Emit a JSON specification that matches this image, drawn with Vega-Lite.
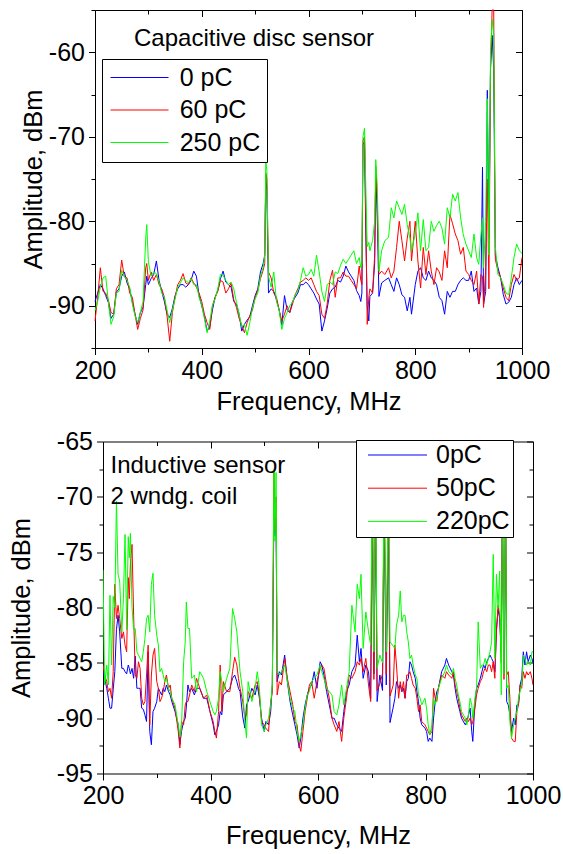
{
"$schema":"https://vega.github.io/schema/vega-lite/v6.json",
"background":"white",
"padding":{"left":9,"top":-2,"right":2,"bottom":4},
"spacing":14.5,
"datasets":{
"top":[
{"f":200,"a":-89.5,"b":-91.8,"c":-90.6},{"f":205,"a":-88.5,"b":-89.0,"c":-89.5},{"f":210,"a":-87.5,"b":-85.5,"c":-87.8},{"f":215,"a":-88.0,"b":-88.3,"c":-86.7},{"f":220,"a":-88.8,"b":-88.5,"c":-86.5},{"f":225,"a":-89.6,"b":-89.3,"c":-89.5},{"f":230,"a":-91.5,"b":-90.8,"c":-92.2},{"f":235,"a":-91.0,"b":-91.0,"c":-91.3},{"f":240,"a":-88.4,"b":-88.0,"c":-88.5},{"f":245,"a":-88.0,"b":-87.5,"c":-88.3},
{"f":250,"a":-86.5,"b":-84.6,"c":-85.8},{"f":255,"a":-86.0,"b":-86.6,"c":-86.5},{"f":260,"a":-87.3,"b":-86.7,"c":-87.0},{"f":265,"a":-88.0,"b":-88.5,"c":-87.8},{"f":270,"a":-89.6,"b":-89.0,"c":-89.8},{"f":275,"a":-91.0,"b":-91.0,"c":-91.2},{"f":280,"a":-92.2,"b":-92.8,"c":-92.0},{"f":285,"a":-90.8,"b":-91.5,"c":-90.8},{"f":290,"a":-90.2,"b":-90.5,"c":-89.5},{"f":295,"a":-87.5,"b":-85.5,"c":-82.0},
{"f":297,"a":-86.5,"b":-85.0,"c":-80.4},{"f":300,"a":-87.5,"b":-87.0,"c":-84.8},{"f":305,"a":-86.8,"b":-86.0,"c":-86.5},{"f":310,"a":-86.3,"b":-87.0,"c":-86.0},{"f":315,"a":-84.7,"b":-86.3,"c":-86.2},{"f":320,"a":-87.0,"b":-87.5,"c":-87.2},{"f":325,"a":-88.3,"b":-88.0,"c":-88.5},{"f":330,"a":-89.5,"b":-89.0,"c":-89.0},{"f":335,"a":-91.0,"b":-91.2,"c":-90.5},{"f":340,"a":-91.4,"b":-94.2,"c":-92.0},
{"f":345,"a":-90.3,"b":-90.8,"c":-90.5},{"f":350,"a":-88.8,"b":-89.0,"c":-89.2},{"f":355,"a":-88.0,"b":-87.5,"c":-87.8},{"f":360,"a":-87.5,"b":-87.0,"c":-87.3},{"f":365,"a":-87.5,"b":-86.2,"c":-86.7},{"f":370,"a":-87.8,"b":-87.3,"c":-87.0},{"f":375,"a":-87.5,"b":-87.5,"c":-87.3},{"f":380,"a":-87.0,"b":-86.7,"c":-86.8},{"f":385,"a":-85.9,"b":-87.3,"c":-87.5},{"f":390,"a":-86.5,"b":-87.8,"c":-87.5},
{"f":395,"a":-88.8,"b":-88.5,"c":-89.0},{"f":400,"a":-90.0,"b":-89.5,"c":-90.0},{"f":405,"a":-91.3,"b":-91.0,"c":-91.5},{"f":410,"a":-93.0,"b":-92.0,"c":-93.2},{"f":415,"a":-92.5,"b":-92.8,"c":-91.8},{"f":420,"a":-90.5,"b":-90.0,"c":-90.0},{"f":425,"a":-89.0,"b":-89.0,"c":-89.2},{"f":430,"a":-88.2,"b":-88.3,"c":-88.0},{"f":435,"a":-86.8,"b":-87.0,"c":-86.3},{"f":440,"a":-85.9,"b":-87.2,"c":-86.4},
{"f":445,"a":-87.2,"b":-88.5,"c":-87.0},{"f":450,"a":-87.5,"b":-88.0,"c":-87.5},{"f":455,"a":-87.8,"b":-87.3,"c":-87.2},{"f":460,"a":-89.5,"b":-89.3,"c":-88.0},{"f":465,"a":-89.8,"b":-90.2,"c":-89.6},{"f":470,"a":-91.0,"b":-91.5,"c":-91.0},{"f":475,"a":-93.0,"b":-92.3,"c":-92.5},{"f":480,"a":-92.2,"b":-93.2,"c":-92.2},{"f":485,"a":-91.7,"b":-92.0,"c":-93.5},{"f":490,"a":-91.3,"b":-91.2,"c":-92.0},
{"f":495,"a":-90.0,"b":-90.5,"c":-90.3},{"f":500,"a":-88.8,"b":-89.0,"c":-89.2},{"f":505,"a":-88.0,"b":-88.2,"c":-88.5},{"f":510,"a":-86.0,"b":-86.8,"c":-86.5},{"f":515,"a":-85.0,"b":-85.8,"c":-85.5},{"f":518,"a":-84.0,"b":-85.0,"c":-84.0},{"f":520,"a":-74.5,"b":-74.3,"c":-72.9},{"f":522,"a":-76.5,"b":-75.0,"c":-74.0},{"f":525,"a":-88.5,"b":-86.0,"c":-86.5},{"f":530,"a":-88.0,"b":-86.7,"c":-87.8},
{"f":535,"a":-88.3,"b":-88.5,"c":-86.0},{"f":540,"a":-89.3,"b":-89.0,"c":-89.5},{"f":545,"a":-90.5,"b":-90.5,"c":-90.5},{"f":550,"a":-92.3,"b":-91.8,"c":-92.8},{"f":555,"a":-88.8,"b":-91.0,"c":-91.5},{"f":560,"a":-90.5,"b":-90.0,"c":-90.8},{"f":565,"a":-90.8,"b":-90.8,"c":-90.0},{"f":570,"a":-89.5,"b":-89.8,"c":-89.6},{"f":575,"a":-89.0,"b":-88.7,"c":-88.7},{"f":580,"a":-88.5,"b":-88.0,"c":-88.2},
{"f":585,"a":-87.5,"b":-87.2,"c":-87.0},{"f":590,"a":-87.5,"b":-87.0,"c":-85.5},{"f":595,"a":-87.2,"b":-86.7,"c":-86.5},{"f":600,"a":-87.5,"b":-87.0,"c":-86.3},{"f":605,"a":-88.0,"b":-86.7,"c":-85.7},{"f":610,"a":-88.5,"b":-87.5,"c":-86.5},{"f":615,"a":-89.2,"b":-88.3,"c":-84.0},{"f":620,"a":-89.8,"b":-88.8,"c":-86.0},{"f":625,"a":-93.0,"b":-91.0,"c":-88.3},{"f":630,"a":-91.8,"b":-91.5,"c":-89.5},
{"f":635,"a":-90.3,"b":-89.8,"c":-87.5},{"f":640,"a":-88.5,"b":-87.0,"c":-87.2},{"f":645,"a":-88.0,"b":-85.8,"c":-87.5},{"f":650,"a":-87.8,"b":-89.0,"c":-86.0},{"f":655,"a":-87.0,"b":-86.7,"c":-86.2},{"f":660,"a":-87.2,"b":-86.7,"c":-85.2},{"f":665,"a":-86.5,"b":-86.0,"c":-84.5},{"f":670,"a":-85.3,"b":-86.5,"c":-85.0},{"f":675,"a":-86.0,"b":-86.5,"c":-84.5},{"f":680,"a":-86.5,"b":-87.0,"c":-84.0},
{"f":685,"a":-87.0,"b":-87.5,"c":-83.5},{"f":690,"a":-88.2,"b":-88.0,"c":-85.0},{"f":695,"a":-88.8,"b":-85.3,"c":-84.3},{"f":698,"a":-89.5,"b":-87.0,"c":-85.5},{"f":700,"a":-88.5,"b":-87.5,"c":-85.0},{"f":702,"a":-71.0,"b":-70.5,"c":-70.0},{"f":705,"a":-70.5,"b":-70.0,"c":-69.0},{"f":707,"a":-80.0,"b":-78.0,"c":-75.0},{"f":710,"a":-90.0,"b":-92.2,"c":-83.0},{"f":713,"a":-91.8,"b":-89.0,"c":-82.5},
{"f":715,"a":-88.9,"b":-88.0,"c":-83.5},{"f":720,"a":-88.5,"b":-88.5,"c":-82.3},{"f":724,"a":-85.0,"b":-84.0,"c":-80.0},{"f":726,"a":-74.0,"b":-73.5,"c":-72.7},{"f":729,"a":-80.0,"b":-78.0,"c":-76.0},{"f":732,"a":-88.9,"b":-86.3,"c":-85.9},{"f":737,"a":-87.3,"b":-85.9,"c":-83.5},{"f":743,"a":-87.0,"b":-86.3,"c":-82.3},{"f":750,"a":-86.7,"b":-85.5,"c":-81.9},{"f":755,"a":-87.5,"b":-86.7,"c":-78.4},
{"f":760,"a":-88.3,"b":-85.9,"c":-79.6},{"f":765,"a":-86.7,"b":-83.1,"c":-77.6},{"f":770,"a":-87.5,"b":-80.0,"c":-78.4},{"f":775,"a":-88.7,"b":-82.3,"c":-79.2},{"f":780,"a":-89.0,"b":-84.7,"c":-78.0},{"f":785,"a":-90.6,"b":-82.0,"c":-80.4},{"f":790,"a":-89.0,"b":-80.0,"c":-82.0},{"f":793,"a":-91.0,"b":-84.7,"c":-83.5},{"f":800,"a":-87.5,"b":-80.0,"c":-81.5},{"f":805,"a":-85.9,"b":-84.7,"c":-79.0},
{"f":810,"a":-85.5,"b":-87.9,"c":-83.5},{"f":815,"a":-86.7,"b":-83.1,"c":-79.8},{"f":820,"a":-87.0,"b":-86.3,"c":-83.5},{"f":825,"a":-85.9,"b":-83.5,"c":-83.1},{"f":830,"a":-86.7,"b":-85.9,"c":-80.0},{"f":835,"a":-87.0,"b":-87.5,"c":-81.2},{"f":840,"a":-87.5,"b":-85.5,"c":-80.5},{"f":845,"a":-89.0,"b":-86.0,"c":-80.0},{"f":850,"a":-89.4,"b":-87.0,"c":-80.8},{"f":855,"a":-91.0,"b":-83.5,"c":-82.7},
{"f":860,"a":-88.3,"b":-85.5,"c":-78.4},{"f":865,"a":-89.0,"b":-79.2,"c":-79.6},{"f":870,"a":-88.3,"b":-80.3,"c":-76.8},{"f":875,"a":-88.3,"b":-81.5,"c":-77.6},{"f":880,"a":-87.5,"b":-82.3,"c":-76.6},{"f":885,"a":-87.0,"b":-83.9,"c":-79.6},{"f":890,"a":-86.7,"b":-83.1,"c":-81.6},{"f":895,"a":-87.0,"b":-85.9,"c":-82.7},{"f":900,"a":-87.0,"b":-86.3,"c":-83.5},{"f":905,"a":-85.9,"b":-87.0,"c":-84.3},
{"f":910,"a":-88.3,"b":-87.5,"c":-81.5},{"f":915,"a":-87.9,"b":-85.9,"c":-84.3},{"f":919,"a":-89.8,"b":-89.8,"c":-85.1},{"f":923,"a":-88.3,"b":-86.3,"c":-81.6},{"f":926,"a":-73.6,"b":-86.5,"c":-79.6},{"f":928,"a":-89.8,"b":-90.2,"c":-85.5},{"f":932,"a":-88.3,"b":-85.5,"c":-80.0},{"f":935,"a":-64.5,"b":-75.0,"c":-65.5},{"f":938,"a":-82.0,"b":-88.0,"c":-84.0},{"f":941,"a":-62.0,"b":-62.0,"c":-60.0},
{"f":944,"a":-58.0,"b":-55.0,"c":-56.1},{"f":947,"a":-62.0,"b":-55.0,"c":-58.0},{"f":950,"a":-84.0,"b":-84.5,"c":-83.0},{"f":955,"a":-85.5,"b":-85.9,"c":-86.3},{"f":960,"a":-86.7,"b":-86.7,"c":-86.7},{"f":965,"a":-88.7,"b":-87.9,"c":-87.5},{"f":970,"a":-89.8,"b":-89.0,"c":-88.5},{"f":975,"a":-89.6,"b":-89.4,"c":-88.7},{"f":980,"a":-89.0,"b":-87.5,"c":-86.7},{"f":985,"a":-87.5,"b":-86.3,"c":-84.3},
{"f":990,"a":-86.7,"b":-87.0,"c":-82.7},{"f":995,"a":-87.5,"b":-86.7,"c":-83.5},{"f":1000,"a":-87.0,"b":-84.3,"c":-83.8}
],
"bot":[
{"f":200,"a":-85.8,"b":-85.2,"c":-76.6},{"f":203,"a":-86.4,"b":-86.1,"c":-87.0},{"f":207,"a":-87.3,"b":-86.7,"c":-85.2},{"f":210,"a":-88.2,"b":-87.6,"c":-87.0},{"f":213,"a":-89.1,"b":-87.3,"c":-78.9},{"f":216,"a":-89.1,"b":-88.2,"c":-85.2},{"f":219,"a":-87.4,"b":-85.8,"c":-79.0},{"f":222,"a":-85.8,"b":-77.9,"c":-80.0},{"f":225,"a":-82.0,"b":-81.0,"c":-70.4},{"f":228,"a":-80.7,"b":-79.8,"c":-77.0},
{"f":231,"a":-82.2,"b":-81.0,"c":-77.6},{"f":235,"a":-85.5,"b":-82.8,"c":-82.2},{"f":238,"a":-85.5,"b":-82.2,"c":-79.2},{"f":241,"a":-85.8,"b":-83.4,"c":-73.4},{"f":244,"a":-86.0,"b":-84.0,"c":-82.0},{"f":247,"a":-85.2,"b":-77.3,"c":-73.6},{"f":249,"a":-85.5,"b":-79.2,"c":-75.5},{"f":251,"a":-86.0,"b":-76.0,"c":-73.3},{"f":254,"a":-85.5,"b":-74.3,"c":-80.0},{"f":257,"a":-86.4,"b":-80.7,"c":-82.0},
{"f":260,"a":-84.4,"b":-86.1,"c":-81.9},{"f":263,"a":-87.3,"b":-86.4,"c":-84.0},{"f":266,"a":-87.3,"b":-84.9,"c":-84.3},{"f":269,"a":-87.3,"b":-85.5,"c":-84.6},{"f":272,"a":-89.1,"b":-88.2,"c":-84.9},{"f":275,"a":-89.2,"b":-88.8,"c":-84.0},{"f":278,"a":-89.7,"b":-88.5,"c":-82.8},{"f":281,"a":-90.3,"b":-86.1,"c":-81.0},{"f":284,"a":-84.0,"b":-83.4,"c":-80.7},{"f":287,"a":-91.2,"b":-90.6,"c":-82.2},
{"f":290,"a":-92.4,"b":-86.1,"c":-77.9},{"f":293,"a":-89.4,"b":-84.3,"c":-76.9},{"f":296,"a":-89.1,"b":-83.7,"c":-80.7},{"f":300,"a":-88.5,"b":-86.7,"c":-82.5},{"f":303,"a":-87.3,"b":-87.3,"c":-83.4},{"f":306,"a":-87.6,"b":-88.5,"c":-85.8},{"f":309,"a":-87.9,"b":-88.2,"c":-85.5},{"f":312,"a":-87.3,"b":-87.6,"c":-86.1},{"f":315,"a":-87.6,"b":-86.7,"c":-86.7},{"f":318,"a":-87.0,"b":-86.1,"c":-86.4},
{"f":322,"a":-87.6,"b":-87.3,"c":-87.3},{"f":325,"a":-87.9,"b":-87.0,"c":-87.6},{"f":328,"a":-88.5,"b":-88.2,"c":-88.2},{"f":334,"a":-89.4,"b":-89.1,"c":-88.8},{"f":340,"a":-90.6,"b":-91.2,"c":-90.6},{"f":343,"a":-92.4,"b":-92.7,"c":-91.7},{"f":346,"a":-91.2,"b":-90.3,"c":-90.9},{"f":350,"a":-90.3,"b":-90.6,"c":-84.9},{"f":353,"a":-90.0,"b":-88.8,"c":-83.1},{"f":355,"a":-89.0,"b":-88.5,"c":-79.5},
{"f":358,"a":-87.0,"b":-88.5,"c":-81.9},{"f":361,"a":-87.6,"b":-87.9,"c":-81.9},{"f":365,"a":-87.3,"b":-87.0,"c":-86.4},{"f":370,"a":-87.9,"b":-87.6,"c":-86.1},{"f":374,"a":-87.3,"b":-86.4,"c":-87.6},{"f":380,"a":-87.3,"b":-87.3,"c":-85.8},{"f":387,"a":-88.2,"b":-88.2,"c":-86.4},{"f":393,"a":-88.2,"b":-87.9,"c":-87.6},{"f":399,"a":-89.4,"b":-89.4,"c":-88.5},{"f":405,"a":-90.6,"b":-90.3,"c":-89.4},
{"f":408,"a":-91.5,"b":-91.2,"c":-89.7},{"f":411,"a":-91.2,"b":-91.8,"c":-89.4},{"f":415,"a":-90.6,"b":-89.4,"c":-88.2},{"f":418,"a":-89.4,"b":-85.2,"c":-85.8},{"f":421,"a":-89.7,"b":-89.4,"c":-86.7},{"f":424,"a":-87.9,"b":-86.7,"c":-87.6},{"f":430,"a":-87.6,"b":-87.6,"c":-86.4},{"f":436,"a":-87.3,"b":-87.6,"c":-85.5},{"f":441,"a":-86.4,"b":-85.8,"c":-80.1},{"f":445,"a":-86.1,"b":-84.5,"c":-81.0},
{"f":449,"a":-86.7,"b":-85.2,"c":-82.2},{"f":452,"a":-87.3,"b":-86.4,"c":-84.0},{"f":455,"a":-87.6,"b":-87.3,"c":-85.8},{"f":460,"a":-89.9,"b":-88.5,"c":-87.6},{"f":464,"a":-90.9,"b":-90.0,"c":-90.3},{"f":467,"a":-88.8,"b":-89.7,"c":-91.8},{"f":470,"a":-88.5,"b":-87.6,"c":-86.7},{"f":477,"a":-87.3,"b":-88.2,"c":-88.5},{"f":483,"a":-87.9,"b":-87.0,"c":-87.3},{"f":487,"a":-87.0,"b":-86.7,"c":-85.8},
{"f":491,"a":-88.2,"b":-87.9,"c":-87.3},{"f":495,"a":-90.0,"b":-90.3,"c":-90.6},{"f":500,"a":-91.2,"b":-90.6,"c":-91.2},{"f":503,"a":-90.3,"b":-90.9,"c":-90.6},{"f":508,"a":-90.6,"b":-91.2,"c":-90.0},{"f":512,"a":-89.4,"b":-88.5,"c":-88.8},{"f":515,"a":-87.0,"b":-87.6,"c":-87.0},{"f":518,"a":-71.5,"b":-67.8,"c":-67.7},{"f":520,"a":-73.5,"b":-73.0,"c":-74.0},{"f":522,"a":-72.0,"b":-70.0,"c":-67.8},
{"f":524,"a":-86.7,"b":-87.9,"c":-85.8},{"f":528,"a":-85.8,"b":-86.7,"c":-86.1},{"f":532,"a":-86.1,"b":-87.0,"c":-85.8},{"f":538,"a":-84.3,"b":-84.6,"c":-85.2},{"f":543,"a":-86.7,"b":-86.4,"c":-86.7},{"f":548,"a":-88.5,"b":-87.6,"c":-88.2},{"f":553,"a":-89.7,"b":-88.8,"c":-89.1},{"f":557,"a":-90.6,"b":-90.3,"c":-89.4},{"f":561,"a":-91.5,"b":-90.6,"c":-91.2},{"f":565,"a":-92.7,"b":-92.4,"c":-92.1},
{"f":568,"a":-91.8,"b":-93.0,"c":-91.5},{"f":572,"a":-90.0,"b":-91.2,"c":-90.6},{"f":576,"a":-88.8,"b":-89.4,"c":-89.1},{"f":580,"a":-87.9,"b":-88.2,"c":-87.9},{"f":584,"a":-87.3,"b":-87.0,"c":-87.6},{"f":588,"a":-87.0,"b":-86.7,"c":-86.7},{"f":593,"a":-85.8,"b":-88.2,"c":-86.4},{"f":598,"a":-87.3,"b":-86.7,"c":-86.1},{"f":604,"a":-84.9,"b":-85.5,"c":-85.2},{"f":607,"a":-85.2,"b":-85.2,"c":-85.8},
{"f":611,"a":-86.1,"b":-85.5,"c":-86.4},{"f":616,"a":-87.6,"b":-87.0,"c":-87.3},{"f":621,"a":-88.8,"b":-88.2,"c":-87.6},{"f":626,"a":-90.0,"b":-90.0,"c":-87.9},{"f":630,"a":-90.0,"b":-90.6,"c":-89.4},{"f":635,"a":-90.6,"b":-91.2,"c":-89.7},{"f":639,"a":-90.9,"b":-90.3,"c":-88.8},{"f":644,"a":-91.2,"b":-92.1,"c":-87.0},{"f":648,"a":-89.4,"b":-90.0,"c":-88.8},{"f":653,"a":-87.6,"b":-88.2,"c":-87.3},
{"f":658,"a":-87.0,"b":-86.1,"c":-85.8},{"f":663,"a":-85.8,"b":-86.4,"c":-79.8},{"f":669,"a":-85.2,"b":-85.8,"c":-82.2},{"f":673,"a":-82.5,"b":-84.9,"c":-77.9},{"f":677,"a":-84.9,"b":-85.2,"c":-79.2},{"f":680,"a":-83.7,"b":-84.6,"c":-77.0},{"f":684,"a":-86.4,"b":-85.8,"c":-83.7},{"f":689,"a":-85.2,"b":-84.6,"c":-80.4},{"f":694,"a":-85.8,"b":-87.0,"c":-82.2},{"f":698,"a":-88.2,"b":-88.5,"c":-83.4},
{"f":701,"a":-70.0,"b":-69.0,"c":-68.0},{"f":704,"a":-86.0,"b":-86.5,"c":-84.0},{"f":707,"a":-70.0,"b":-69.0,"c":-68.0},{"f":710,"a":-88.5,"b":-87.5,"c":-85.5},{"f":715,"a":-86.1,"b":-86.9,"c":-84.3},{"f":720,"a":-87.5,"b":-86.0,"c":-85.0},{"f":723,"a":-70.0,"b":-69.0,"c":-68.0},{"f":727,"a":-87.0,"b":-86.0,"c":-84.0},{"f":731,"a":-70.0,"b":-69.0,"c":-68.0},{"f":734,"a":-90.4,"b":-88.0,"c":-83.1},
{"f":740,"a":-89.0,"b":-87.0,"c":-83.5},{"f":743,"a":-88.2,"b":-83.4,"c":-83.7},{"f":746,"a":-86.7,"b":-85.2,"c":-81.6},{"f":750,"a":-87.3,"b":-88.2,"c":-80.7},{"f":753,"a":-87.0,"b":-86.7,"c":-78.5},{"f":756,"a":-87.6,"b":-87.6,"c":-81.3},{"f":759,"a":-87.3,"b":-86.7,"c":-80.7},{"f":762,"a":-88.2,"b":-88.2,"c":-80.7},{"f":765,"a":-86.7,"b":-86.1,"c":-82.2},{"f":768,"a":-86.4,"b":-86.1,"c":-83.1},
{"f":771,"a":-84.9,"b":-85.8,"c":-84.6},{"f":774,"a":-85.2,"b":-86.4,"c":-84.3},{"f":777,"a":-85.8,"b":-87.0,"c":-85.2},{"f":781,"a":-86.4,"b":-87.3,"c":-86.1},{"f":784,"a":-87.6,"b":-88.2,"c":-86.4},{"f":787,"a":-88.5,"b":-89.4,"c":-87.9},{"f":790,"a":-90.0,"b":-88.8,"c":-88.2},{"f":793,"a":-90.6,"b":-90.3,"c":-88.8},{"f":799,"a":-90.9,"b":-90.6,"c":-88.2},{"f":802,"a":-91.2,"b":-90.9,"c":-89.1},
{"f":805,"a":-92.1,"b":-91.2,"c":-90.6},{"f":808,"a":-91.8,"b":-91.5,"c":-91.5},{"f":812,"a":-92.1,"b":-91.2,"c":-90.6},{"f":815,"a":-90.0,"b":-87.3,"c":-88.2},{"f":818,"a":-88.5,"b":-88.2,"c":-88.8},{"f":821,"a":-87.6,"b":-88.5,"c":-88.2},{"f":824,"a":-87.3,"b":-87.3,"c":-87.3},{"f":830,"a":-85.8,"b":-86.1,"c":-86.4},{"f":836,"a":-85.2,"b":-86.4,"c":-85.8},{"f":839,"a":-84.6,"b":-85.8,"c":-85.2},
{"f":843,"a":-85.2,"b":-86.1,"c":-85.8},{"f":849,"a":-85.8,"b":-86.4,"c":-86.1},{"f":852,"a":-86.1,"b":-85.8,"c":-85.5},{"f":855,"a":-87.3,"b":-87.0,"c":-86.4},{"f":858,"a":-88.2,"b":-87.6,"c":-87.0},{"f":861,"a":-88.8,"b":-88.2,"c":-87.9},{"f":864,"a":-89.4,"b":-89.1,"c":-88.5},{"f":867,"a":-90.0,"b":-89.7,"c":-89.4},{"f":874,"a":-90.6,"b":-90.3,"c":-90.0},{"f":877,"a":-90.3,"b":-90.0,"c":-90.6},
{"f":880,"a":-89.7,"b":-90.3,"c":-89.7},{"f":883,"a":-89.1,"b":-90.0,"c":-88.2},{"f":886,"a":-91.2,"b":-90.6,"c":-88.8},{"f":888,"a":-92.1,"b":-90.3,"c":-90.0},{"f":892,"a":-88.5,"b":-89.1,"c":-88.2},{"f":895,"a":-87.3,"b":-87.9,"c":-87.3},{"f":898,"a":-87.0,"b":-87.3,"c":-81.3},{"f":902,"a":-86.4,"b":-86.7,"c":-85.5},{"f":905,"a":-85.8,"b":-86.4,"c":-85.2},{"f":908,"a":-85.2,"b":-85.8,"c":-85.2},
{"f":911,"a":-85.5,"b":-85.5,"c":-84.6},{"f":914,"a":-84.9,"b":-85.8,"c":-85.2},{"f":917,"a":-84.6,"b":-85.2,"c":-84.6},{"f":920,"a":-84.3,"b":-85.2,"c":-84.0},{"f":923,"a":-84.6,"b":-85.8,"c":-83.1},{"f":926,"a":-84.9,"b":-84.9,"c":-75.2},{"f":929,"a":-85.8,"b":-86.4,"c":-84.6},{"f":932,"a":-82.0,"b":-82.2,"c":-77.0},{"f":935,"a":-80.2,"b":-79.8,"c":-80.0},{"f":938,"a":-81.0,"b":-80.7,"c":-76.7},
{"f":941,"a":-84.0,"b":-85.0,"c":-87.9},{"f":943,"a":-70.0,"b":-69.0,"c":-68.0},{"f":946,"a":-86.0,"b":-86.5,"c":-86.0},{"f":949,"a":-70.0,"b":-69.0,"c":-68.0},{"f":951,"a":-88.5,"b":-86.1,"c":-87.3},{"f":954,"a":-88.8,"b":-85.8,"c":-87.0},{"f":957,"a":-89.7,"b":-88.2,"c":-90.3},{"f":960,"a":-91.2,"b":-91.8,"c":-91.8},{"f":964,"a":-90.0,"b":-92.1,"c":-90.6},{"f":967,"a":-90.6,"b":-92.1,"c":-90.0},
{"f":970,"a":-88.8,"b":-89.4,"c":-89.4},{"f":973,"a":-88.8,"b":-88.8,"c":-88.2},{"f":976,"a":-87.0,"b":-87.0,"c":-87.6},{"f":979,"a":-86.4,"b":-87.3,"c":-87.0},{"f":982,"a":-84.0,"b":-85.8,"c":-84.3},{"f":985,"a":-85.2,"b":-86.4,"c":-84.6},{"f":988,"a":-84.0,"b":-85.8,"c":-85.2},{"f":991,"a":-84.9,"b":-86.1,"c":-84.9},{"f":995,"a":-84.3,"b":-85.8,"c":-85.2},{"f":998,"a":-84.6,"b":-86.4,"c":-84.0},
{"f":1000,"a":-85.0,"b":-87.0,"c":-84.0}
]},
"vconcat":[
{
"width":427,"height":338,
"data":{"name":"top"},
"title":{"text":"Capacitive disc sensor","anchor":"start","frame":"group","orient":"top","offset":-71.8,"baseline":"alphabetic","dx":31,"fontSize":24,"font":"Liberation Sans","fontWeight":"normal","color":"black"},
"layer":[
{"mark":{"type":"line","strokeWidth":1},
"encoding":{
"x":{"field":"f","type":"quantitative","scale":{"domain":[200,1000],"range":[-8,419],"nice":false,"zero":false},
"axis":{"orient":"bottom","values":[200,300,400,500,600,700,800,900,1000],"title":"Frequency, MHz","labelExpr":"datum.value % 200 === 0 ? '' + datum.value : ''","tickSize":6.5,"labelPadding":3.5,"titlePadding":6,"encoding":{"ticks":{"y2":{"condition":{"test":"datum.value % 200 === 0","value":6.5},"value":4}}}}},
"y":{"field":"a","type":"quantitative","scale":{"domain":[-95,-55],"nice":false,"zero":false},
"axis":{"orient":"left","offset":8,"values":[-95,-90,-85,-80,-75,-70,-65,-60,-55],"title":"Amplitude, dBm","titleX":-48.4,"titleAngle":270,"titleBaseline":"bottom","titleAlign":"center","labelExpr":"datum.value % 10 === 0 ? '' + datum.value : ''","tickSize":6.5,"labelPadding":4,"encoding":{"ticks":{"x2":{"condition":{"test":"datum.value % 10 === 0","value":-6.5},"value":-4}}}}},
"color":{"datum":"0 pC","type":"nominal","scale":{"domain":["0 pC","60 pC","250 pC"],"range":["#0000ff","#ff0000","#00ff00"]},
"legend":{"orient":"none","legendX":-1,"legendY":49,"title":null,"padding":6,"rowPadding":6.5,"strokeColor":"black","fillColor":"white","symbolType":"M-5.8,0H5.8","symbolSize":100,"symbolStrokeWidth":1,"symbolOffset":19,"labelOffset":27.7,"labelFontSize":25,"labelFont":"Liberation Sans","labelColor":"black","labelLimit":300,"zindex":1}}
}},
{"mark":{"type":"line","strokeWidth":1},
"encoding":{"x":{"field":"f","type":"quantitative","axis":null},"y":{"field":"b","type":"quantitative","axis":null},"color":{"datum":"60 pC","type":"nominal"}}},
{"mark":{"type":"line","strokeWidth":1},
"encoding":{"x":{"field":"f","type":"quantitative","axis":null},"y":{"field":"c","type":"quantitative","axis":null},"color":{"datum":"250 pC","type":"nominal"}}},
{"mark":{"type":"line","opacity":0},
"encoding":{
"x":{"field":"f","type":"quantitative","axis":{"orient":"top","values":[200,300,400,500,600,700,800,900,1000],"labels":false,"title":null,"tickSize":0,"encoding":{"ticks":{"y2":{"condition":{"test":"datum.value % 200 === 0","value":6.5},"value":4}}}}},
"y":{"field":"a","type":"quantitative","axis":{"orient":"right","offset":-8,"values":[-95,-90,-85,-80,-75,-70,-65,-60,-55],"labels":false,"title":null,"tickSize":0,"encoding":{"ticks":{"x2":{"condition":{"test":"datum.value % 10 === 0","value":-6.5},"value":-4}}}}}
}}
],
"resolve":{"axis":{"x":"independent","y":"independent"}}
},
{
"width":430,"height":332,
"data":{"name":"bot"},
"title":{"text":["Inductive sensor","2 wndg. coil"],"lineHeight":31,"anchor":"start","frame":"group","orient":"top","offset":-98.7,"baseline":"alphabetic","dx":7.5,"fontSize":24,"font":"Liberation Sans","fontWeight":"normal","color":"black"},
"layer":[
{"mark":{"type":"line","strokeWidth":1,"clip":true},
"encoding":{
"x":{"field":"f","type":"quantitative","scale":{"domain":[200,1000],"nice":false,"zero":false},
"axis":{"orient":"bottom","values":[200,300,400,500,600,700,800,900,1000],"title":"Frequency, MHz","labelExpr":"datum.value % 200 === 0 ? '' + datum.value : ''","tickSize":6.5,"labelPadding":3,"titlePadding":15,"encoding":{"ticks":{"y2":{"condition":{"test":"datum.value % 200 === 0","value":6.5},"value":4}}}}},
"y":{"field":"a","type":"quantitative","scale":{"domain":[-95,-65],"nice":false,"zero":false},
"axis":{"orient":"left","values":[-95,-92.5,-90,-87.5,-85,-82.5,-80,-77.5,-75,-72.5,-70,-67.5,-65],"title":"Amplitude, dBm","titleX":-68.9,"titleAngle":270,"titleBaseline":"bottom","titleAlign":"center","labelExpr":"datum.value % 5 === 0 ? '' + datum.value : ''","tickSize":6.5,"labelPadding":4,"encoding":{"ticks":{"x2":{"condition":{"test":"datum.value % 5 === 0","value":-6.5},"value":-4}}}}},
"color":{"datum":"0pC","type":"nominal","scale":{"domain":["0pC","50pC","220pC"],"range":["#0000ff","#ff0000","#00ff00"]},
"legend":{"orient":"none","legendX":253,"legendY":-1.5,"title":null,"padding":2.5,"rowPadding":7.2,"strokeColor":"black","fillColor":"white","symbolType":"M-5.9,0H5.9","symbolSize":100,"symbolStrokeWidth":1,"symbolOffset":26.5,"labelOffset":26,"labelFontSize":25,"labelFont":"Liberation Sans","labelColor":"black","labelLimit":300,"zindex":1}}
}},
{"mark":{"type":"line","strokeWidth":1,"clip":true},
"encoding":{"x":{"field":"f","type":"quantitative","axis":null},"y":{"field":"b","type":"quantitative","axis":null},"color":{"datum":"50pC","type":"nominal"}}},
{"mark":{"type":"line","strokeWidth":1,"clip":true},
"encoding":{"x":{"field":"f","type":"quantitative","axis":null},"y":{"field":"c","type":"quantitative","axis":null},"color":{"datum":"220pC","type":"nominal"}}},
{"mark":{"type":"line","opacity":0},
"encoding":{
"x":{"field":"f","type":"quantitative","axis":{"orient":"top","values":[200,300,400,500,600,700,800,900,1000],"labels":false,"title":null,"tickSize":0,"encoding":{"ticks":{"y2":{"condition":{"test":"datum.value % 200 === 0","value":6.5},"value":4}}}}},
"y":{"field":"a","type":"quantitative","axis":{"orient":"right","values":[-95,-92.5,-90,-87.5,-85,-82.5,-80,-77.5,-75,-72.5,-70,-67.5,-65],"labels":false,"title":null,"tickSize":0,"encoding":{"ticks":{"x2":{"condition":{"test":"datum.value % 5 === 0","value":-6.5},"value":-4}}}}}
}}
],
"resolve":{"axis":{"x":"independent","y":"independent"}}
}
],
"resolve":{"scale":{"color":"independent"},"legend":{"color":"independent"}},
"config":{
"view":{"stroke":null},
"font":"Liberation Sans",
"axis":{"grid":false,"labelFont":"Liberation Sans","labelFontSize":25,"labelColor":"black","titleFont":"Liberation Sans","titleFontSize":25.5,"titleFontWeight":"normal","titleColor":"black","domainColor":"black","domainWidth":1,"tickColor":"black","tickWidth":1,"labelOverlap":false,"labelFlush":false,"zindex":1}
}
}
